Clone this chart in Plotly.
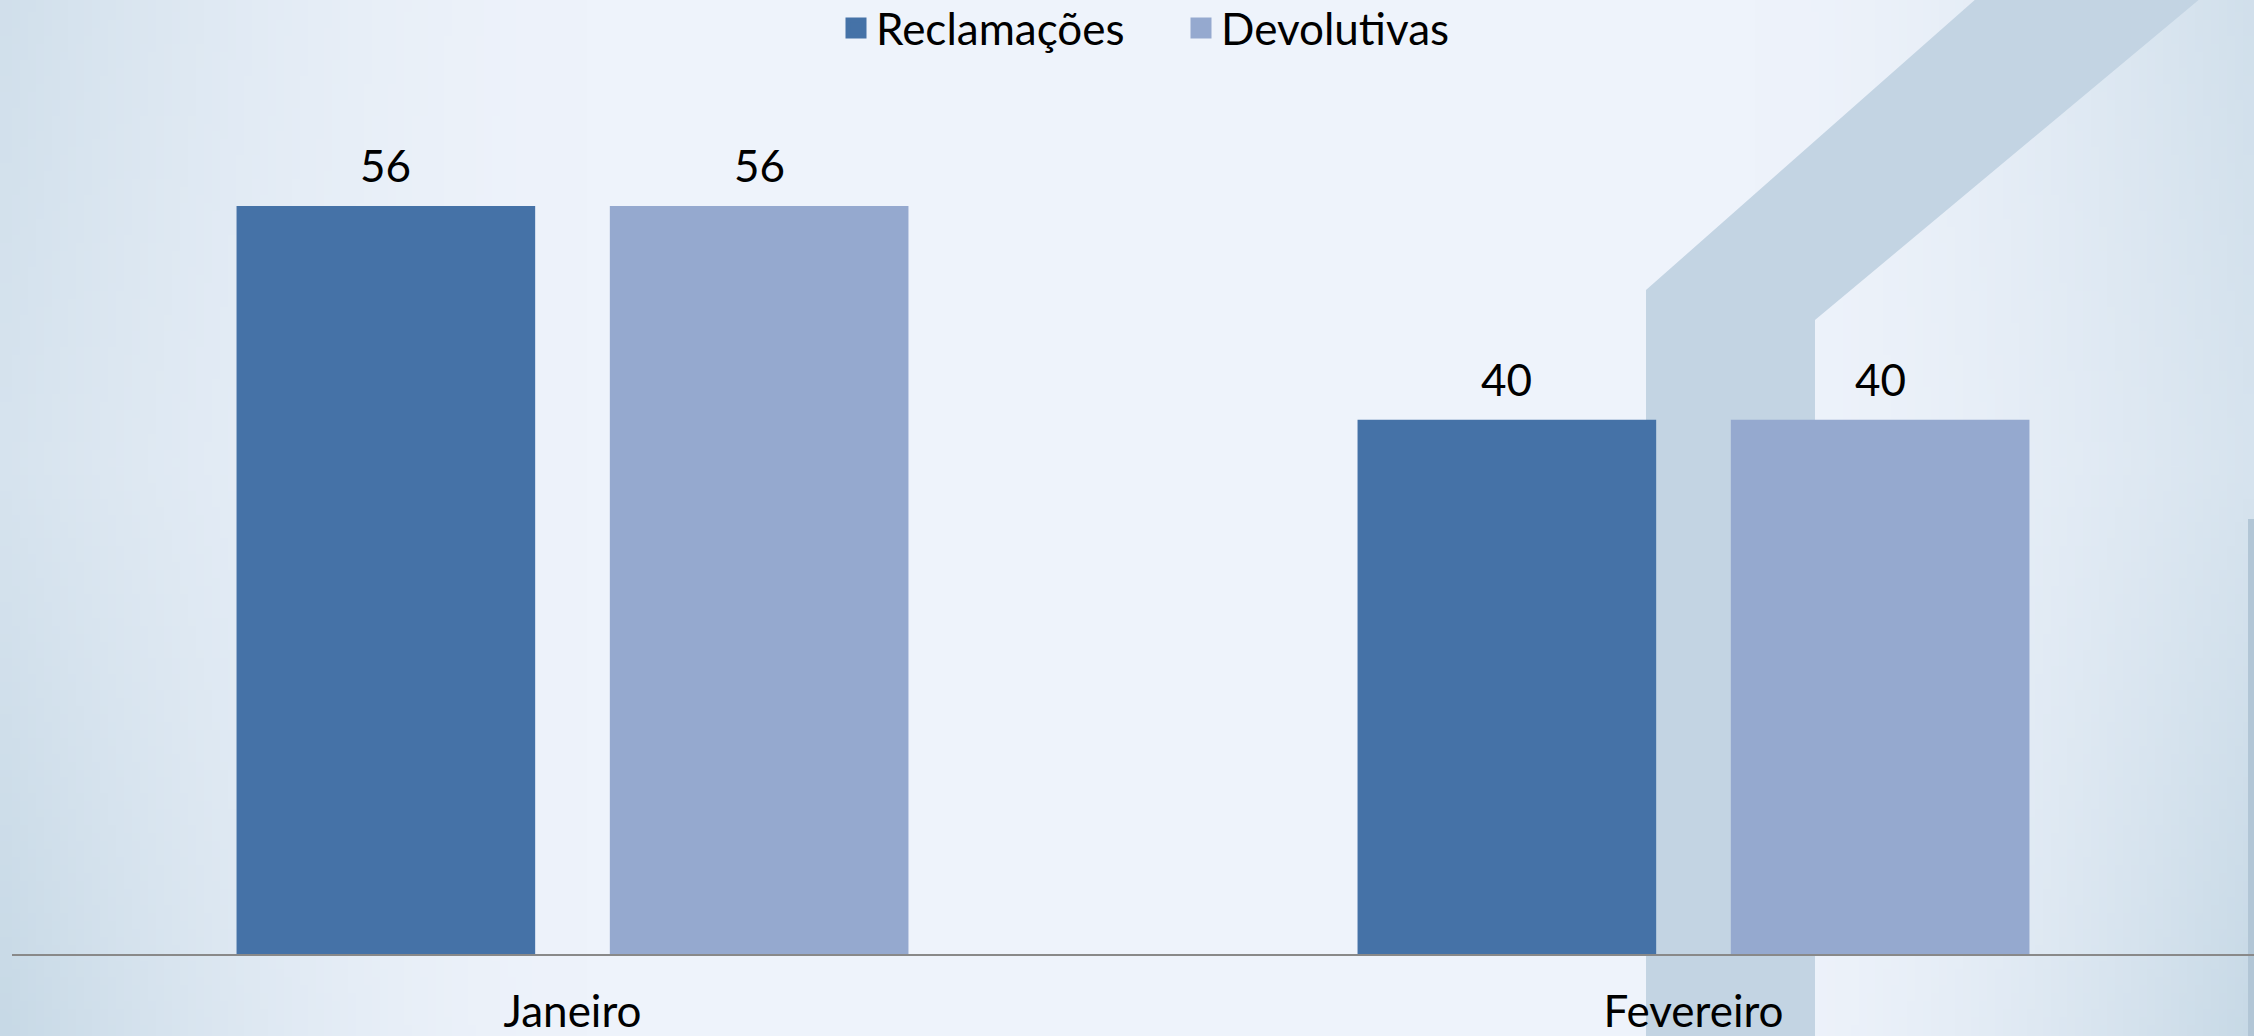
import base64
import struct
import zlib

import numpy as np
import plotly.graph_objects as go

# ---------------- data ----------------
categories = ["Janeiro", "Fevereiro"]
series_names = ["Reclamações", "Devolutivas"]
reclamacoes = [56, 40]
devolutivas = [56, 40]
series_values = [reclamacoes, devolutivas]
series_colors = ["#4572A7", "#95A9CF"]

# ---------------- page geometry ----------------
FIG_W, FIG_H = 2254, 1036
M_L, M_R, M_T, M_B = 12, 0, 100, 82
PW = FIG_W - M_L - M_R
PH = FIG_H - M_T - M_B
FONT = "Lato"
BARGAP, BARGROUPGAP = 0.334, 0.2


def paper_xy(px, py):
    """pixel on the page -> paper coordinates"""
    return (px - M_L) / PW, (FIG_H - M_B - py) / PH


# ---------------- background gradient image ----------------
GW, GH = 282, 130
xs = (np.arange(GW) + 0.5) / GW
ys = (np.arange(GH) + 0.5) / GH
X, Y = np.meshgrid(xs, ys)
left = np.clip(1 - X / 0.26, 0, 1) ** 1.6
right = np.clip(1 - (1 - X) / 0.22, 0, 1) ** 1.6
h = np.maximum(left, right)
g = np.interp(Y, [0, 0.45, 1], [0.75, 0.6, 1.0])
t = (h * g)[..., None]
c_center = np.array([238, 243, 251], dtype=float)
c_edge = np.array([199, 217, 230], dtype=float)
img = np.clip(c_center + (c_edge - c_center) * t, 0, 255).astype(np.uint8)

raw = b"".join(b"\x00" + row.tobytes() for row in img)


def _chunk(tag, data):
    return (struct.pack(">I", len(data)) + tag + data
            + struct.pack(">I", zlib.crc32(tag + data) & 0xFFFFFFFF))


png = (b"\x89PNG\r\n\x1a\n"
       + _chunk(b"IHDR", struct.pack(">IIBBBBB", GW, GH, 8, 2, 0, 0, 0))
       + _chunk(b"IDAT", zlib.compress(raw, 9))
       + _chunk(b"IEND", b""))
bg_uri = "data:image/png;base64," + base64.b64encode(png).decode()

# ---------------- figure ----------------
fig = go.Figure()

# width (px) of one bar slot inside a category group
slot_px = (PW / len(categories)) * (1 - BARGAP) / len(series_names)
annotations = []

for i, (name, vals, col) in enumerate(zip(series_names, series_values, series_colors)):
    fig.add_trace(go.Bar(
        x=categories, y=vals, name=name,
        marker=dict(color=col, line=dict(width=0)),
        showlegend=False, legendgroup=name, cliponaxis=False,
    ))
    # legend entry with a larger square swatch
    fig.add_trace(go.Scatter(
        x=[None], y=[None], mode="markers", name=name, legendgroup=name,
        marker=dict(symbol="square", size=16, color=col,
                    line=dict(color=col, width=5)),
        hoverinfo="skip",
    ))
    shift = (i - (len(series_names) - 1) / 2) * slot_px
    for cat, v in zip(categories, vals):
        annotations.append(dict(
            x=cat, y=v, xref="x", yref="y", text=str(v), showarrow=False,
            xanchor="center", yanchor="bottom", xshift=shift, yshift=13,
            font=dict(family=FONT, size=44, color="#000000"),
        ))

# decorative chevron band
pts = [(1646, 1040), (1646, 290), (1977, -2), (2201, -2), (1815, 320), (1815, 1040)]
path = "M " + " L ".join("%.5f,%.5f" % paper_xy(px, py) for px, py in pts) + " Z"
shapes = [
    dict(type="path", path=path, xref="paper", yref="paper", layer="below",
         fillcolor="#C3D4E3", line=dict(width=0)),
]
x0, y0 = paper_xy(2248, 1040)
x1, y1 = paper_xy(2256, 519)
shapes.append(dict(type="rect", xref="paper", yref="paper", layer="below",
                   x0=x0, y0=y0, x1=x1, y1=y1, fillcolor="#B2C6D6",
                   line=dict(width=0)))

ix, iy = paper_xy(0, 0)
fig.update_layout(
    width=FIG_W, height=FIG_H,
    margin=dict(l=M_L, r=M_R, t=M_T, b=M_B, pad=0, autoexpand=False),
    paper_bgcolor="#EAF0F8",
    plot_bgcolor="rgba(0,0,0,0)",
    barmode="group", bargap=BARGAP, bargroupgap=BARGROUPGAP,
    font=dict(family=FONT, size=44, color="#000000"),
    showlegend=True,
    legend=dict(orientation="h", x=paper_xy(836, 0)[0], xanchor="left",
                y=paper_xy(0, -7)[1], yanchor="top",
                entrywidth=300, entrywidthmode="pixels",
                bgcolor="rgba(0,0,0,0)",
                font=dict(family=FONT, size=44, color="#000000"),
                itemclick=False, itemdoubleclick=False),
    images=[dict(source=bg_uri, xref="paper", yref="paper", x=ix, y=iy,
                 sizex=FIG_W / PW, sizey=FIG_H / PH, sizing="stretch",
                 xanchor="left", yanchor="top", layer="below")],
    shapes=shapes,
    annotations=annotations,
    xaxis=dict(showline=True, linecolor="#898989", linewidth=2,
               showgrid=False, zeroline=False, ticks="", automargin=False,
               tickfont=dict(family=FONT, size=44, color="#000000"),
               ticklabelstandoff=18, fixedrange=True),
    yaxis=dict(range=[0, 63.94], visible=False, showgrid=False,
               zeroline=False, fixedrange=True, automargin=False),
)

fig.write_html("out.html",
               config={"displayModeBar": False},
               post_script="document.body.style.margin='0';"
                           "document.body.style.overflow='hidden';")
